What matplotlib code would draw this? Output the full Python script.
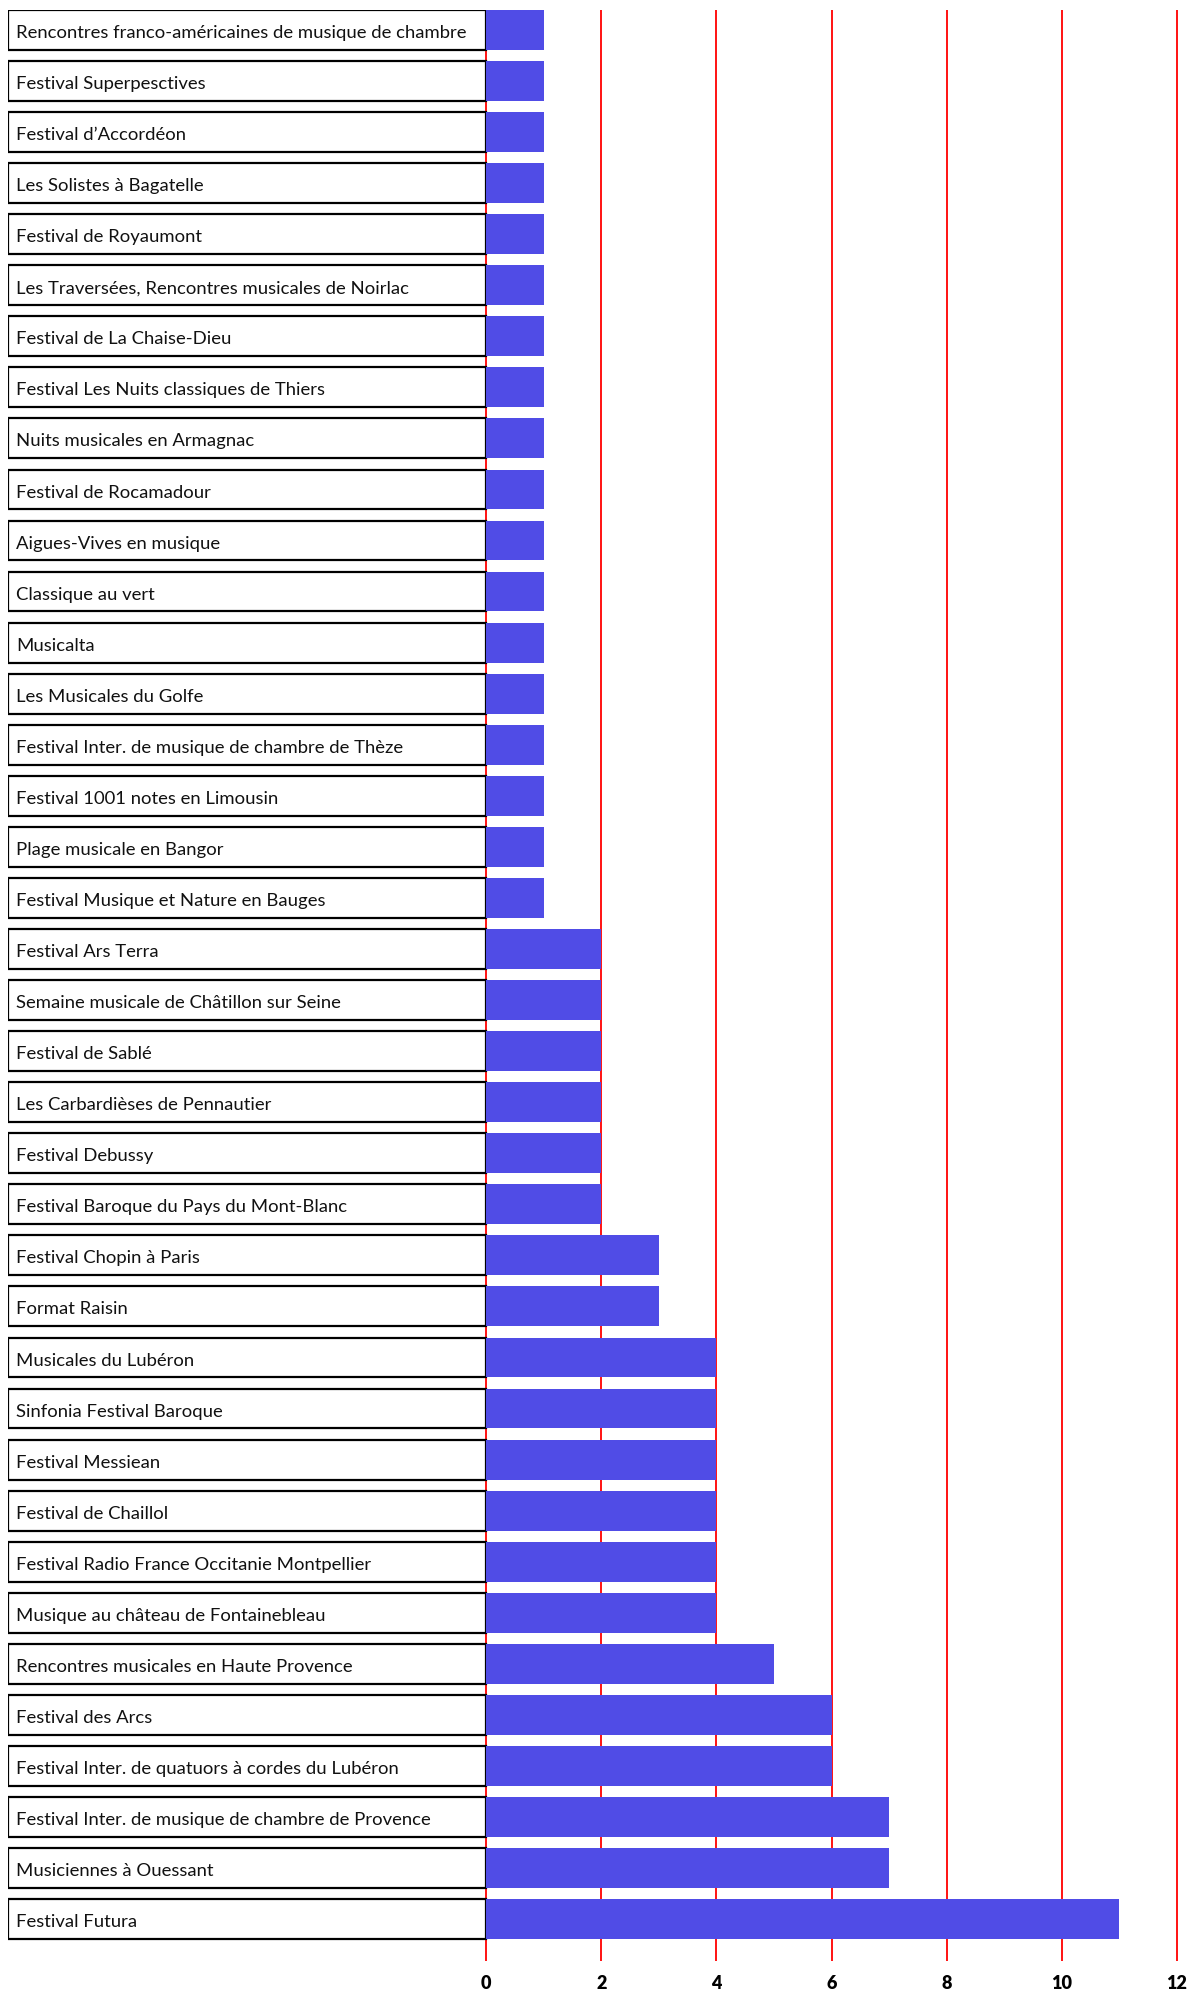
import matplotlib
matplotlib.use("Agg")
import matplotlib.pyplot as plt

# ------------------------------
# Données
# ------------------------------

festivals = [
    "Rencontres franco-américaines de musique de chambre",
    "Festival Superpesctives",
    "Festival d’Accordéon",
    "Les Solistes à Bagatelle",
    "Festival de Royaumont",
    "Les Traversées, Rencontres musicales de Noirlac",
    "Festival de La Chaise-Dieu",
    "Festival Les Nuits classiques de Thiers",
    "Nuits musicales en Armagnac",
    "Festival de Rocamadour",
    "Aigues-Vives en musique",
    "Classique au vert",
    "Musicalta",
    "Les Musicales du Golfe",
    "Festival Inter. de musique de chambre de Thèze",
    "Festival 1001 notes en Limousin",
    "Plage musicale en Bangor",
    "Festival Musique et Nature en Bauges",
    "Festival Ars Terra",
    "Semaine musicale de Châtillon sur Seine",
    "Festival de Sablé",
    "Les Carbardièses de Pennautier",
    "Festival Debussy",
    "Festival Baroque du Pays du Mont-Blanc",
    "Festival Chopin à Paris",
    "Format Raisin",
    "Musicales du Lubéron",
    "Sinfonia Festival Baroque",
    "Festival Messiean",
    "Festival de Chaillol",
    "Festival Radio France Occitanie Montpellier",
    "Musique au château de Fontainebleau",
    "Rencontres musicales en Haute Provence",
    "Festival des Arcs",
    "Festival Inter. de quatuors à cordes du Lubéron",
    "Festival Inter. de musique de chambre de Provence",
    "Musiciennes à Ouessant",
    "Festival Futura",
]

valeurs = [1] * 18 + [2] * 6 + [3] * 2 + [4] * 6 + [5] + [6] * 2 + [7] * 2 + [11]

ticks_x = [0, 2, 4, 6, 8, 10, 12]

# ------------------------------
# Graphique
# ------------------------------

W, H = 1192, 1989
fig = plt.figure(figsize=(W / 100, H / 100), dpi=100)

unite = (1177 - 486) / 12
gauche_px, droite_px = 8, 1180
haut_px, bas_px = 10, 1961
ax = fig.add_axes([gauche_px / W, 1 - bas_px / H,
                   (droite_px - gauche_px) / W, (bas_px - haut_px) / H])

hauteur = 0.78
y = list(range(len(festivals)))
x_gauche = -(486 - gauche_px) / unite - 0.005

# cases blanches avec le nom du festival
ax.barh(y, [-x_gauche] * len(y), left=x_gauche, height=hauteur,
        color="white", edgecolor="black", linewidth=1.6, zorder=3)
for i, nom in enumerate(festivals):
    ax.text(x_gauche + 8 / unite, i + 0.06, nom, va="center", ha="left",
            fontsize=13.3, family="Lato", color="#111111", zorder=4)

# barres
ax.barh(y, valeurs, height=hauteur, color="#504CE6", zorder=3)

ax.set_xlim(x_gauche, (droite_px - 486) / unite)
ax.set_ylim(len(festivals) - 1 + hauteur / 2 + 0.43, -hauteur / 2)
ax.set_xticks(ticks_x)
ax.set_xticklabels([str(t) for t in ticks_x], fontsize=13, fontweight="heavy",
                   family="Lato")
ax.tick_params(axis="x", length=0, pad=10)
ax.set_yticks([])
ax.grid(True, axis="x", color="red", linewidth=1.3, zorder=0)
ax.set_axisbelow(True)
for s in ax.spines.values():
    s.set_visible(False)

fig.savefig("out.png", dpi=100, facecolor="white")
